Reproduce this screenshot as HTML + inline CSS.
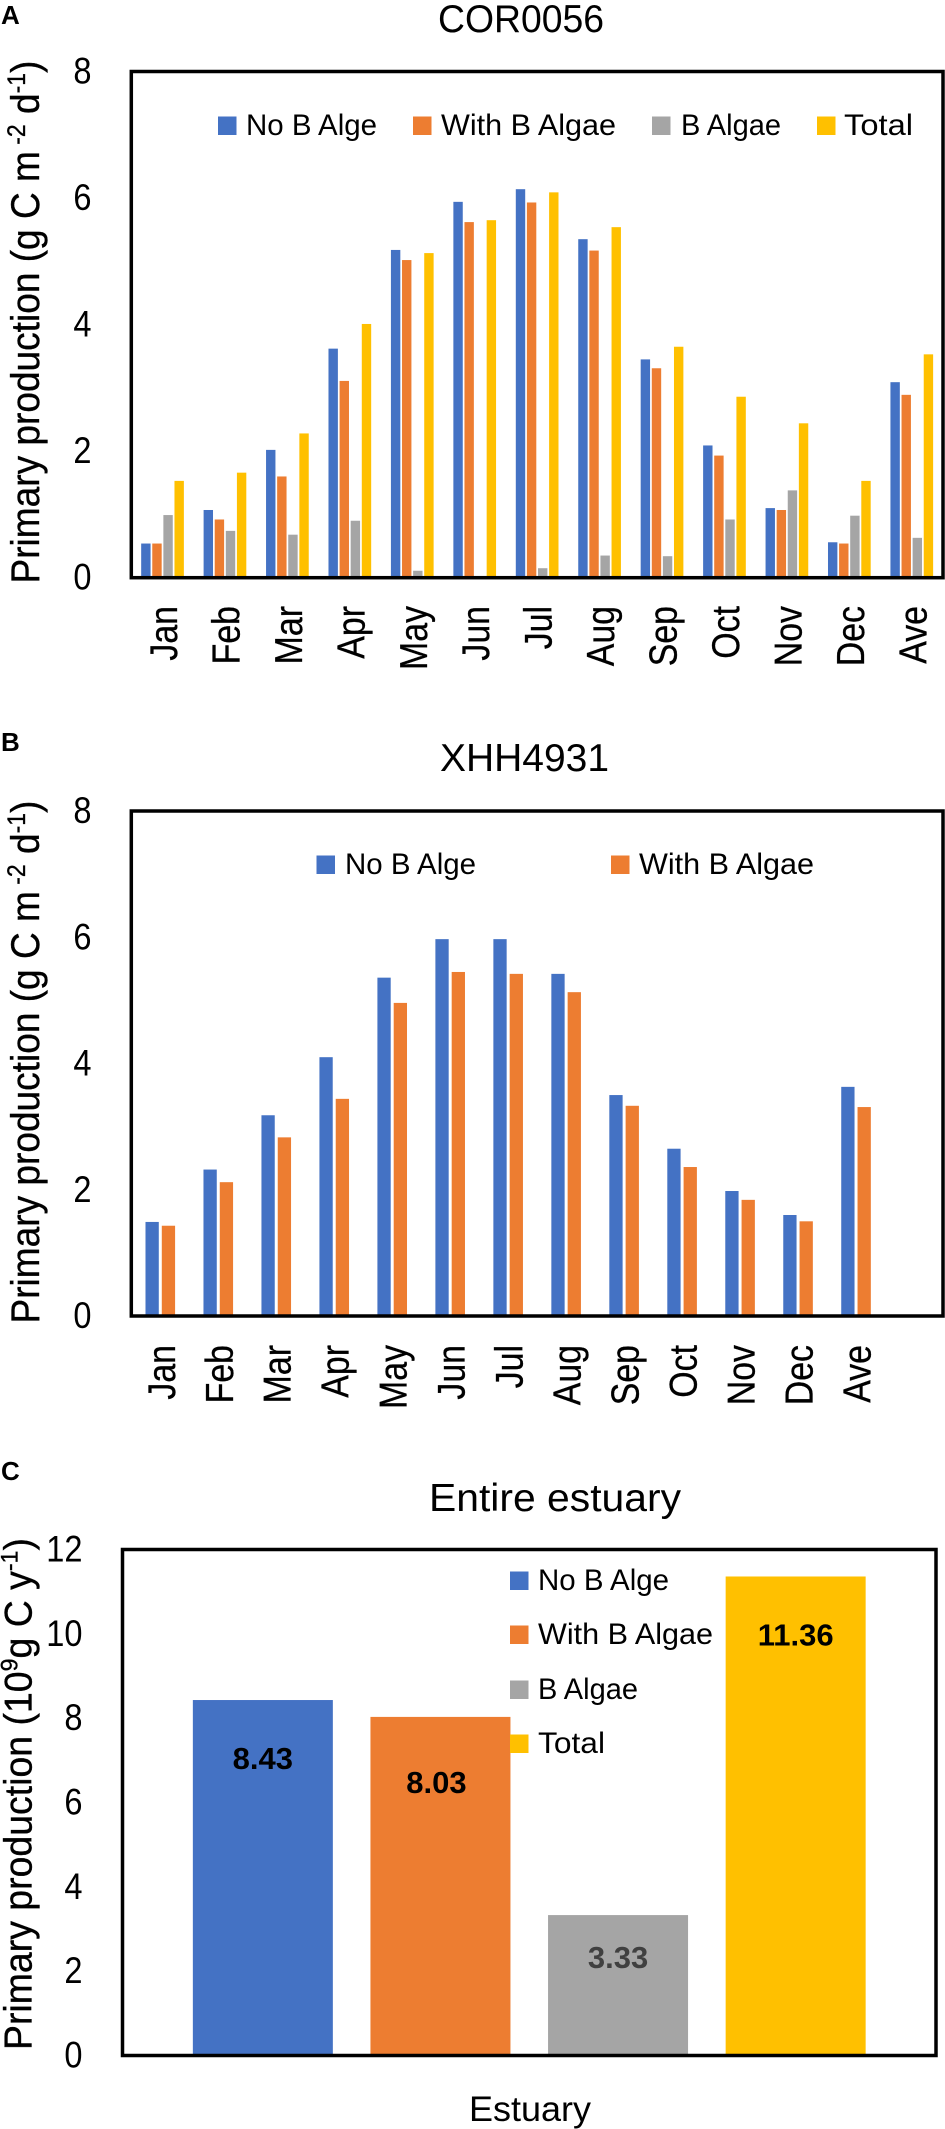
<!DOCTYPE html>
<html lang="en">
<head>
<meta charset="utf-8">
<title>Primary production charts</title>
<style>
html,body{margin:0;padding:0;background:#fff;}
svg{display:block;font-family:"Liberation Sans",Arial,sans-serif;fill:#000;}
.sup{font-size:62%;}
.fit{stroke:#000;stroke-width:0.35;}
</style>
</head>
<body>
<svg id="figure" width="945" height="2129" viewBox="0 0 945 2129" xmlns="http://www.w3.org/2000/svg">
  <rect x="0" y="0" width="945" height="2129" fill="#fff"/>

  <text x="1" y="24" font-size="26" font-weight="bold">A</text>
  <text x="1" y="751" font-size="26" font-weight="bold">B</text>
  <text x="1" y="1480" font-size="26" font-weight="bold">C</text>

  <text x="438" y="32" font-size="39" textLength="166" lengthAdjust="spacingAndGlyphs">COR0056</text>
  <text x="440" y="771" font-size="39" textLength="169" lengthAdjust="spacingAndGlyphs">XHH4931</text>
  <text x="429" y="1511" font-size="39" textLength="252" lengthAdjust="spacingAndGlyphs">Entire estuary</text>

  <text class="fit" data-x="39" data-y="583.5" data-len="523" font-size="40">Primary production (g C m<tspan class="sup" dy="-14"> -2</tspan><tspan dy="14"> d</tspan><tspan class="sup" dy="-14">-1</tspan><tspan dy="14">)</tspan></text>
  <text class="fit" data-x="39" data-y="1323.5" data-len="523" font-size="40">Primary production (g C m<tspan class="sup" dy="-14"> -2</tspan><tspan dy="14"> d</tspan><tspan class="sup" dy="-14">-1</tspan><tspan dy="14">)</tspan></text>
  <text class="fit" data-x="31.5" data-y="2050" data-len="512" font-size="39">Primary production (10<tspan class="sup" dy="-14">9</tspan><tspan dy="14">g C y</tspan><tspan class="sup" dy="-14">-1</tspan><tspan dy="14">)</tspan></text>

  <text x="469" y="2121" font-size="35" textLength="122" lengthAdjust="spacingAndGlyphs">Estuary</text>

  <g id="plots"></g>

  <g font-size="30">
    <g><rect x="218" y="116.5" width="18.5" height="18.5" fill="#4472C4"/><text x="246" y="135" textLength="131" lengthAdjust="spacingAndGlyphs">No B Alge</text></g>
    <g><rect x="413" y="116.5" width="18.5" height="18.5" fill="#ED7D31"/><text x="441" y="135" textLength="175" lengthAdjust="spacingAndGlyphs">With B Algae</text></g>
    <g><rect x="652" y="116.5" width="18.5" height="18.5" fill="#A5A5A5"/><text x="681" y="135" textLength="100" lengthAdjust="spacingAndGlyphs">B Algae</text></g>
    <g><rect x="817" y="116.5" width="18.5" height="18.5" fill="#FFC000"/><text x="844" y="135" textLength="69" lengthAdjust="spacingAndGlyphs">Total</text></g>
  </g>

  <g font-size="30">
    <g><rect x="316.5" y="855.5" width="18.5" height="18.5" fill="#4472C4"/><text x="345" y="874" textLength="131" lengthAdjust="spacingAndGlyphs">No B Alge</text></g>
    <g><rect x="611" y="855.5" width="18.5" height="18.5" fill="#ED7D31"/><text x="639" y="874" textLength="175" lengthAdjust="spacingAndGlyphs">With B Algae</text></g>
  </g>

  <g id="legend-c" font-size="30">
    <g><rect x="510" y="1571.5" width="18.5" height="18.5" fill="#4472C4"/><text x="538" y="1590" textLength="131" lengthAdjust="spacingAndGlyphs">No B Alge</text></g>
    <g><rect x="510" y="1625.5" width="18.5" height="18.5" fill="#ED7D31"/><text x="538" y="1644" textLength="175" lengthAdjust="spacingAndGlyphs">With B Algae</text></g>
    <g><rect x="510" y="1680.5" width="18.5" height="18.5" fill="#A5A5A5"/><text x="538" y="1699" textLength="100" lengthAdjust="spacingAndGlyphs">B Algae</text></g>
    <g><rect x="510" y="1734.5" width="18.5" height="18.5" fill="#FFC000"/><text x="538" y="1753" textLength="67" lengthAdjust="spacingAndGlyphs">Total</text></g>
  </g>
</svg>

<script>
var monthLabels = ['Jan','Feb','Mar','Apr','May','Jun','Jul','Aug','Sep','Oct','Nov','Dec','Ave'];
var monthLabelsB = ['Jan','Feb','Mar','Apr','May','Jun','Jul','Aug','Sep','Oct','Nov','Dec','Ave',''];
var yTicksMonthly = [0,2,4,6,8];
var yTicksEstuary = [0,2,4,6,8,10,12];

var corNoBAlge    = [0.54,1.07,2.02,3.62,5.18,5.94,6.14,5.35,3.45,2.09,1.10,0.56,3.09];
var corWithBAlgae = [0.54,0.92,1.60,3.11,5.02,5.62,5.93,5.17,3.31,1.93,1.07,0.54,2.89];
var corBAlgae     = [0.99,0.74,0.68,0.90,0.11,0.00,0.15,0.35,0.34,0.92,1.38,0.98,0.63];
var corTotal      = [1.53,1.66,2.28,4.01,5.13,5.65,6.09,5.54,3.65,2.86,2.44,1.53,3.53];

var xhhNoBAlge    = [1.49,2.32,3.18,4.10,5.36,5.97,5.97,5.42,3.50,2.65,1.98,1.60,3.63];
var xhhWithBAlgae = [1.43,2.12,2.83,3.44,4.96,5.45,5.42,5.13,3.33,2.36,1.84,1.50,3.31];

var estuaryValues = [8.43,8.03,3.33,11.36];
var estuaryLabels = ['8.43','8.03','3.33','11.36'];

var COLORS = ['#4472C4','#ED7D31','#A5A5A5','#FFC000'];
var SVGNS = 'http://www.w3.org/2000/svg';
var plots = document.getElementById('plots');

function make(tag, attrs, parent) {
  var el = document.createElementNS(SVGNS, tag);
  for (var k in attrs) el.setAttribute(k, attrs[k]);
  parent.appendChild(el);
  return el;
}

function drawChart(id, box, maxVal, ticks, cats, series, barW, barGap) {
  var group = make('g', {}, plots);
  
  

  function yScale(v) { return box.bottom - (v / maxVal) * (box.bottom - box.top); }
  var catW = (box.right - box.left) / cats.length;
  function xScale(i, s) {
    var groupW = series.length * barW + (series.length - 1) * barGap;
    return box.left + catW * i + (catW - groupW) / 2 + s * (barW + barGap);
  }

  series.forEach(function (vals, s) {
    vals.forEach(function (v, i) {
      var bar = make('rect', {
        x: xScale(i, s),
        y: yScale(v),
        width: barW,
        height: box.bottom - yScale(v),
        fill: COLORS[s]
      }, group);
      
      
    });
  });

  ticks.forEach(function (t) {
    var label = make('text', {
      'font-size': 37,
      'text-anchor': 'end',
      transform: 'translate(' + box.tickX + ',' + (yScale(t) + 12) + ') scale(0.88,1)'
    }, group);
    label.textContent = t;
    
    
  });

  cats.forEach(function (c, i) {
    if (!c) return;
    var cx = box.left + catW * (i + 0.5) + 14.5;
    var label = make('text', {
      'font-size': 38.5,
      'text-anchor': 'end',
      stroke: '#000',
      'stroke-width': 0.3,
      transform: 'translate(' + cx + ',' + box.labelTop + ') rotate(-90) scale(0.88,1)'
    }, group);
    label.textContent = c;
    
    
  });

  var frame = make('rect', {
    x: box.left,
    y: box.top,
    width: box.right - box.left,
    height: box.bottom - box.top,
    fill: 'none',
    stroke: '#000',
    'stroke-width': 3.5
  }, group);
  
  

  return { yScale: yScale, xScale: xScale, group: group };
}

drawChart('chart-a',
  { left: 131.3, right: 943, top: 71.5, bottom: 577.7, tickX: 91.5, labelTop: 606 },
  8, yTicksMonthly, monthLabels,
  [corNoBAlge, corWithBAlgae, corBAlgae, corTotal], 9.4, 1.7);

drawChart('chart-b',
  { left: 131.3, right: 943, top: 811, bottom: 1316, tickX: 91.5, labelTop: 1345 },
  8, yTicksMonthly, monthLabelsB,
  [xhhNoBAlge, xhhWithBAlgae], 13.3, 3);

/* Chart C: a single category with four series, each drawn from estuaryValues */
var boxC = { left: 122.5, right: 936, top: 1549.5, bottom: 2055.5, tickX: 82.5 };
var chartC = (function () {
  var group = make('g', {}, plots);
  
  
  var maxVal = 12, barW = 140, barGap = 37.6;
  var labelDrop = [58, 65, 42, 58];
  var labelShift = [0, -4, 0, 0];
  var labelColor = ['#000', '#000', '#404040', '#000'];
  function yScale(v) { return boxC.bottom - (v / maxVal) * (boxC.bottom - boxC.top); }
  function xScale(s) {
    var groupW = estuaryValues.length * barW + (estuaryValues.length - 1) * barGap;
    return boxC.left + (boxC.right - boxC.left - groupW) / 2 + s * (barW + barGap);
  }
  estuaryValues.forEach(function (v, s) {
    var bar = make('rect', {
      x: xScale(s),
      y: yScale(v),
      width: barW,
      height: boxC.bottom - yScale(v),
      fill: COLORS[s]
    }, group);
    
    
  });
  estuaryValues.forEach(function (v, s) {
    var label = make('text', {
      x: xScale(s) + barW / 2 + labelShift[s],
      y: yScale(v) + labelDrop[s] + 11,
      'font-size': 31,
      'font-weight': 'bold',
      'text-anchor': 'middle',
      fill: labelColor[s]
    }, group);
    label.textContent = estuaryLabels[s];
    
    
  });
  yTicksEstuary.forEach(function (t) {
    var label = make('text', {
      'font-size': 37,
      'text-anchor': 'end',
      transform: 'translate(' + boxC.tickX + ',' + (yScale(t) + 12) + ') scale(0.88,1)'
    }, group);
    label.textContent = t;
    
    
  });
  var frame = make('rect', {
    x: boxC.left,
    y: boxC.top,
    width: boxC.right - boxC.left,
    height: boxC.bottom - boxC.top,
    fill: 'none',
    stroke: '#000',
    'stroke-width': 3.5
  }, group);
  
  
  return group;
})();

/* Fit rotated axis titles to their measured length */
Array.prototype.forEach.call(document.querySelectorAll('text.fit'), function (el) {
  var len = el.getComputedTextLength();
  var s = parseFloat(el.getAttribute('data-len')) / len;
  el.setAttribute('transform',
    'translate(' + el.getAttribute('data-x') + ',' + el.getAttribute('data-y') + ') rotate(-90) scale(' + s + ',1)');
});
</script>
</body>
</html>
